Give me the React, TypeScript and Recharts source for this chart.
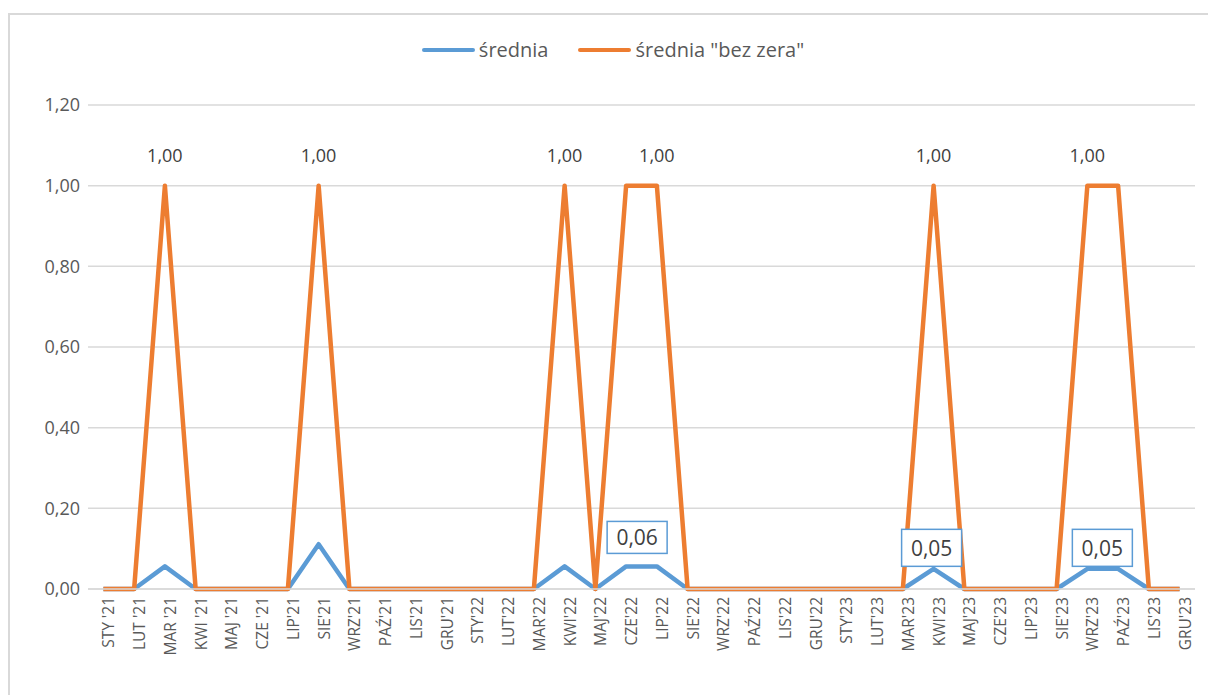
import { CartesianGrid, LabelList, Line, LineChart, XAxis, YAxis } from "recharts";

const months = [
  "STY '21", "LUT '21", "MAR '21", "KWI '21", "MAJ '21", "CZE '21",
  "LIP'21", "SIE'21", "WRZ'21", "PAŹ'21", "LIS'21", "GRU'21",
  "STY'22", "LUT'22", "MAR'22", "KWI'22", "MAJ'22", "CZE'22",
  "LIP'22", "SIE'22", "WRZ'22", "PAŹ'22", "LIS'22", "GRU'22",
  "STY'23", "LUT'23", "MAR'23", "KWI'23", "MAJ'23", "CZE'23",
  "LIP'23", "SIE'23", "WRZ'23", "PAŹ'23", "LIS'23", "GRU'23",
];

const srednia = [
  0, 0, 0.056, 0, 0, 0, 0, 0.111, 0, 0, 0, 0,
  0, 0, 0, 0.056, 0, 0.056, 0.056, 0, 0, 0, 0, 0,
  0, 0, 0, 0.05, 0, 0, 0, 0, 0.05, 0.05, 0, 0,
];

const bezZera = [
  0, 0, 1, 0, 0, 0, 0, 1, 0, 0, 0, 0,
  0, 0, 0, 1, 0, 1, 1, 0, 0, 0, 0, 0,
  0, 0, 0, 1, 0, 0, 0, 0, 1, 1, 0, 0,
];

const yTicks = [0, 0.2, 0.4, 0.6, 0.8, 1.0, 1.2];

// which points carry a data label
const orangeLabelIdx = [2, 7, 15, 18, 27, 32];
const blueLabels = [
  { index: 17, dx: 11, dy: -29, h: 32 },
  { index: 27, dx: -2, dy: -21, h: 37 },
  { index: 32, dx: 15, dy: -21, h: 37 },
];

const BLUE = "#5B9BD5";
const ORANGE = "#ED7D31";
const FONT = "'Open Sans', sans-serif";

const data = months.map((m, i) => ({ month: m, a: srednia[i], b: bezZera[i] }));

const fmt = (v: number) => v.toFixed(2).replace(".", ",");

function MonthTick(props: any) {
  const { x, y, payload } = props;
  return (
    <g transform={`translate(${x},${y})`}>
      <text
        x={0}
        y={0}
        dy={5}
        transform="rotate(-90)"
        textAnchor="end"
        dominantBaseline="central"
        fill="#595959"
        fontSize={15.5}
        fontFamily={FONT}
      >
        {payload.value}
      </text>
    </g>
  );
}

function OrangeLabel(props: any) {
  const { x, y, value, index } = props;
  if (!orangeLabelIdx.includes(index)) return null;
  return (
    <text
      x={x}
      y={y - 31}
      textAnchor="middle"
      dominantBaseline="central"
      fill="#404040"
      fontSize={18}
      fontFamily={FONT}
    >
      {fmt(Number(value))}
    </text>
  );
}

function BlueLabel(props: any) {
  const { x, y, value, index } = props;
  const cfg = blueLabels.find((b) => b.index === index);
  if (!cfg) return null;
  const cx = x + cfg.dx;
  const cy = y + cfg.dy;
  const w = 60;
  return (
    <g>
      <rect
        x={cx - w / 2}
        y={cy - cfg.h / 2}
        width={w}
        height={cfg.h}
        fill="#fff"
        stroke={BLUE}
        strokeWidth={1.5}
      />
      <text
        x={cx}
        y={cy}
        textAnchor="middle"
        dominantBaseline="central"
        fill="#404040"
        fontSize={21}
        fontFamily={FONT}
      >
        {fmt(Number(value))}
      </text>
    </g>
  );
}

function LegendRow() {
  const item = (color: string, label: string, gap: number) => (
    <div style={{ display: "flex", alignItems: "center", marginRight: gap }}>
      <div
        style={{ width: 53, height: 4, borderRadius: 2, background: color, marginRight: 4 }}
      />
      <span>{label}</span>
    </div>
  );
  return (
    <div
      style={{
        position: "absolute",
        top: 36,
        left: 0,
        width: 1208,
        display: "flex",
        justifyContent: "center",
        paddingLeft: 18,
        boxSizing: "border-box",
        fontFamily: FONT,
        fontSize: 20,
        color: "#595959",
      }}
    >
      {item(BLUE, "średnia", 30)}
      {item(ORANGE, 'średnia "bez zera"', 0)}
    </div>
  );
}

export default function App() {
  return (
    <div
      style={{
        position: "fixed",
        left: 0,
        top: 0,
        width: 1208,
        height: 695,
        overflow: "hidden",
        background: "#fff",
      }}
    >
      <div
        style={{
          position: "absolute",
          left: 8,
          top: 13,
          width: 1240,
          height: 720,
          border: "2px solid #d9d9d9",
        }}
      />
      <LegendRow />
      <div style={{ position: "absolute", left: 0, top: 0 }}>
        <LineChart
          width={1208}
          height={695}
          data={data}
          margin={{ top: 105, right: 13, bottom: 26, left: 28 }}
        >
          <CartesianGrid vertical={false} stroke="#d9d9d9" strokeWidth={1.5} />
          <XAxis
            dataKey="month"
            interval={0}
            height={80}
            padding={{ left: 15.4, right: 15.4 }}
            axisLine={{ stroke: "#d9d9d9", strokeWidth: 1.5 }}
            tickLine={false}
            tick={<MonthTick />}
          />
          <YAxis
            width={60}
            domain={[0, 1.2]}
            ticks={yTicks}
            tickFormatter={fmt}
            axisLine={false}
            tickLine={false}
            tick={{ fill: "#595959", fontSize: 18, fontFamily: FONT }}
          />
          <Line
            dataKey="a"
            stroke={BLUE}
            strokeWidth={4.5}
            strokeLinejoin="round"
            dot={false}
            isAnimationActive={false}
          >
            <LabelList dataKey="a" content={<BlueLabel />} />
          </Line>
          <Line
            dataKey="b"
            stroke={ORANGE}
            strokeWidth={4.5}
            strokeLinejoin="round"
            dot={false}
            isAnimationActive={false}
          >
            <LabelList dataKey="b" content={<OrangeLabel />} />
          </Line>
        </LineChart>
      </div>
    </div>
  );
}
